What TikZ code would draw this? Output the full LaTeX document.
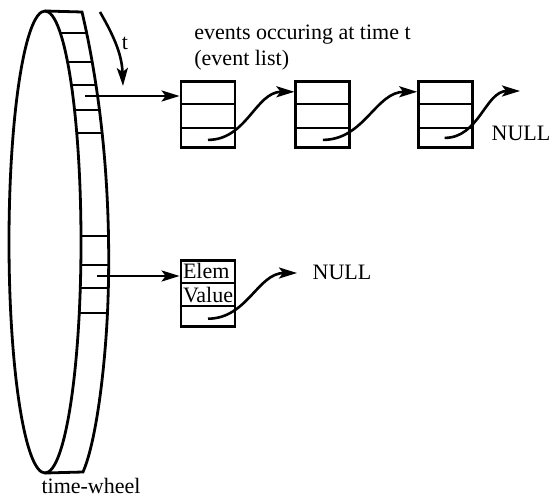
\documentclass[tikz,border=0pt]{standalone}
\usepackage{fontspec}
\setmainfont{Liberation Serif}
\usepackage{tikz}
\usetikzlibrary{arrows.meta, positioning, calc}

\begin{document}
\begin{tikzpicture}[x=0.5pt, y=0.5pt, line width=1.4pt, every node/.style={font=\fontsize{11}{13}\selectfont},
    elem/.style={draw, line width=1.4pt, minimum width=27pt, minimum height=33pt, inner sep=0pt},
    cellline/.style={line width=1pt},
    link/.style={-{Stealth[length=9pt, width=5.5pt, inset=2pt]}, line width=1.3pt}]
    \useasboundingbox (0,0) rectangle (550,-496);
    % time-wheel
    \draw (45,-242) ellipse [x radius=36, y radius=231];
    \draw (45,-11) -- (82,-12) .. controls (98,-80) and (112,-180) .. (108,-300) .. controls (106,-360) and (97,-440) .. (83,-472) -- (45,-473);
    \begin{scope}
        \clip (45,-11) -- (82,-12) .. controls (98,-80) and (112,-180) .. (108,-300) .. controls (106,-360) and (97,-440) .. (83,-472) -- (45,-473) arc[start angle=-90, end angle=90, x radius=36, y radius=231] -- cycle;
        \foreach \y in {33, 62, 85, 110, 133, 236, 265, 288, 313}
            \draw[cellline] (40,-\y) -- (120,-\y);
    \end{scope}
    \node[inner sep=0pt] (twlbl) at (91,-486) {time-wheel};
    % direction of time
    \coordinate (t0) at (100,-12);
    \coordinate (t1) at (123,-86);
    \draw[link] (t0) to[out=-60, in=92] (t1);
    \node (tlbl) at (125,-43) {t};
    % event list
    \node[anchor=north west, align=left, inner sep=0pt] (evlbl) at (193,-24) {events occuring at time t\\(event list)};
    \node[elem] (e1) at (208,-114.5) {};
    \node[elem, right=29pt of e1] (e2) {};
    \node[elem, right=33pt of e2] (e3) {};
    \node[elem, below=55pt of e1] (e4) {};
    \foreach \n in {e1,e2,e3,e4}
        \foreach \f in {0.35,0.69}
            \draw[cellline] ($(\n.north west)!\f!(\n.south west)$) -- ($(\n.north east)!\f!(\n.south east)$);
    \node[anchor=west, inner sep=1pt] (elem) at ($(e4.north west)!0.175!(e4.south west)$) {Elem};
    \node[anchor=west, inner sep=1pt] (value) at ($(e4.north west)!0.52!(e4.south west)$) {Value};
    % slots to lists
    \coordinate (s1) at (85,-96);
    \coordinate (s2) at (97,-276);
    \draw[link] (s1) -- (s1 -| e1.west);
    \draw[link] (s2) -- (s2 -| e4.west);
    % next pointers
    \coordinate (p1) at ($(e1.south)+(0,9)$);
    \coordinate (p2) at ($(e2.south)+(0,9)$);
    \coordinate (p3) at ($(e3.south)+(-1,11)$);
    \coordinate (p4) at ($(e4.south)+(0,9)$);
    \coordinate (q2) at ($(e2.north west)!0.17!(e2.south west)$);
    \coordinate (q3) at ($(e3.north west)!0.17!(e3.south west)$);
    \coordinate (n1) at (520,-91);
    \coordinate (n2) at (297,-273);
    \draw[link] (p1) to[out=0, in=180] (q2);
    \draw[link] (p2) to[out=0, in=180] (q3);
    \draw[link] (p3) to[out=0, in=180] (n1);
    \draw[link] (p4) to[out=0, in=180] (n2);
    \node (null1) at (521,-133) {NULL};
    \node (null2) at (342,-272) {NULL};
\end{tikzpicture}
\end{document}
